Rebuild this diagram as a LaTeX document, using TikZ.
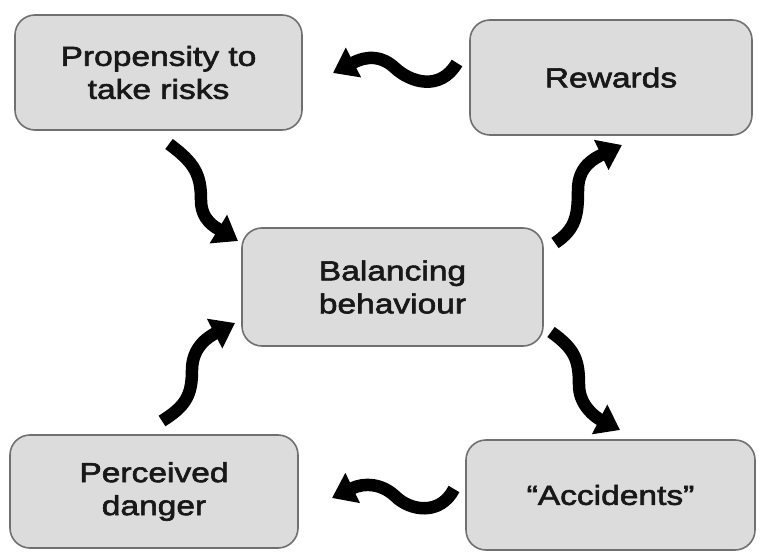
\documentclass[tikz,border=0pt]{standalone}
\usepackage{fontspec}
\setmainfont{Liberation Sans}
\newfontfamily\boxfont[FakeStretch=1.22,FakeBold=2.2]{Liberation Sans}
\usetikzlibrary{arrows.meta}
\definecolor{boxfill}{HTML}{DCDCDC}
\definecolor{boxline}{HTML}{707070}
\definecolor{ink}{HTML}{181818}
\tikzset{
  x=1pt, y=-1pt,
  panel/.style={draw=boxline, line width=1.6pt, fill=boxfill, rounded corners=20pt,
    align=center, text=ink, font=\boxfont\fontsize{27.5}{33}\selectfont, inner sep=0pt},
  wavy/.style={draw=black, line width=12.5pt, line cap=butt,
    -{Triangle[length=23pt,width=32pt]}}
}
\begin{document}
\begin{tikzpicture}
\useasboundingbox (0,0) rectangle (763,556);
\fill[white] (0,0) rectangle (763,556);

% boxes
\node[panel, minimum width=287pt, minimum height=115pt] (prop) at (158.5,72.5) {Propensity to\\take risks};
\node[panel, minimum width=282pt, minimum height=115pt] (rew) at (611,77.5) {Rewards};
\node[panel, minimum width=301pt, minimum height=118pt] (bal) at (392.5,287) {Balancing\\behaviour};
\node[panel, minimum width=288pt, minimum height=113pt] (dan) at (154,491.5) {Perceived\\danger};
\node[panel, minimum width=289pt, minimum height=110pt] (acc) at (610.5,495) {“Accidents”};

% arrow end points
\coordinate (tA) at (457,63);   \coordinate (hA) at (333,73);
\coordinate (tB) at (169,144);  \coordinate (hB) at (238,241);
\coordinate (tC) at (555,243);  \coordinate (hC) at (622,145);
\coordinate (tD) at (551,332);  \coordinate (hD) at (620,430);
\coordinate (tE) at (162,421);  \coordinate (hE) at (235,323);
\coordinate (tF) at (454,489);  \coordinate (hF) at (332,498);

% wavy arrows
\draw[wavy] (tA) .. controls (440,92) and (410,82) .. (395,68)
                 .. controls (382,56) and (368,55) .. (hA);
\draw[wavy] (tB) .. controls (195,163) and (201,175) .. (201,200)
                 .. controls (201,220) and (215,227) .. (hB);
\draw[wavy] (tC) .. controls (576,229) and (578,215) .. (578,190)
                 .. controls (578,166) and (595,158) .. (hC);
\draw[wavy] (tD) .. controls (575,349) and (579,360) .. (579,385)
                 .. controls (579,405) and (595,417) .. (hD);
\draw[wavy] (tE) .. controls (186,406) and (192,395) .. (192,370)
                 .. controls (192,346) and (210,336) .. (hE);
\draw[wavy] (tF) .. controls (440,516) and (410,511) .. (395,496)
                 .. controls (382,484) and (365,482) .. (hF);
\end{tikzpicture}
\end{document}
